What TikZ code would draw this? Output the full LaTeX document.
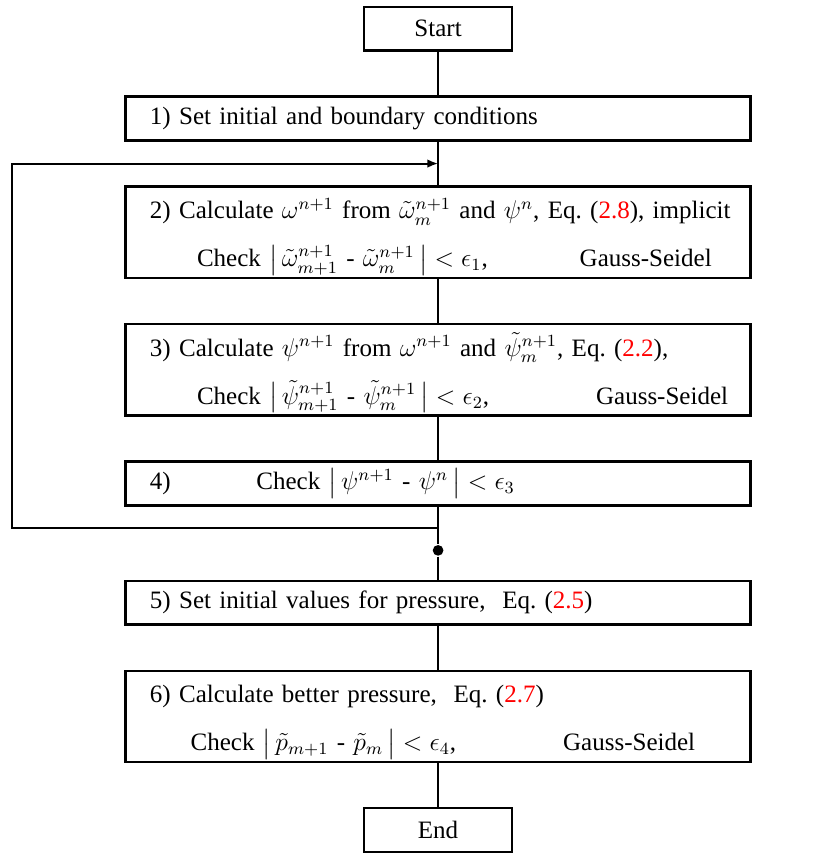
\documentclass[tikz,border=0pt]{standalone}
\usepackage{amsmath}
\usepackage{amssymb}
\usepackage[no-math]{fontspec}
\setmainfont{Liberation Serif}
\usepackage{tikz}
\usetikzlibrary{arrows.meta, positioning, calc}

\begin{document}
\begin{tikzpicture}[
        node distance=0.72cm,
        >={Latex[length=5pt,width=4pt]},
        line width=0.9pt,
        every node/.style={font=\fontsize{11.7pt}{14.5pt}\selectfont},
        block/.style={
            rectangle,
            draw,
            line width=1.1pt,
            minimum height=0.72cm,
            minimum width=10.27cm,
            text width=9.47cm,
            inner xsep=0.4cm,
            inner ysep=1pt,
            align=left
        },
        block2/.style={
            block,
            minimum height=1.456cm
        },
        term/.style={
            rectangle,
            draw,
            line width=1.1pt,
            minimum height=0.72cm,
            minimum width=2.43cm
        },
        joint/.style={
            circle,
            fill,
            inner sep=0pt,
            minimum size=5pt
        }
    ]

    % blocchi del diagramma
    \node[term] (start) {Start};
    \node[block, below=of start] (s1) {1) Set initial and boundary conditions};
    \node[block2, below=of s1] (s2) {\mbox{\rule{0pt}{14pt}2) Calculate $\omega^{n+1}$ from $\tilde{\omega}^{n+1}_m$ and $\psi^n$, Eq.~(\textcolor{red}{2.8}), implicit}\\[8pt]
        \mbox{\hspace*{22pt}Check $\big|\,\tilde{\omega}^{n+1}_{m+1}$ - $\tilde{\omega}^{n+1}_m\,\big| < \epsilon_1$,\hspace{43pt}Gauss-Seidel}};
    \node[block2, below=of s2] (s3) {\mbox{\rule{0pt}{14pt}3) Calculate $\psi^{n+1}$ from $\omega^{n+1}$ and $\tilde{\psi}^{n+1}_m$, Eq.~(\textcolor{red}{2.2}),}\\[8pt]
        \mbox{\hspace*{22pt}Check $\big|\,\tilde{\psi}^{n+1}_{m+1}$ - $\tilde{\psi}^{n+1}_m\,\big| < \epsilon_2$,\hspace{50pt}Gauss-Seidel}};
    \node[block, below=of s3] (s4) {4)\hspace{40pt}Check $\big|\,\psi^{n+1}$ - $\psi^n\,\big| < \epsilon_3$};
    \node[block, below=1.2cm of s4] (s5) {5) Set initial values for pressure,~ Eq.~(\textcolor{red}{2.5})};
    \node[block2, below=of s5] (s6) {\mbox{\rule{0pt}{14pt}6) Calculate better pressure,~ Eq.~(\textcolor{red}{2.7})}\\[8pt]
        \mbox{\hspace*{19pt}Check $\big|\,\tilde{p}_{m+1}$ - $\tilde{p}_m\,\big| < \epsilon_4$,\hspace{50pt}Gauss-Seidel}};
    \node[term, below=of s6] (stop) {End};

    % ciclo di iterazione
    \coordinate (loopin) at ($(s1.south)!0.5!(s2.north)$);
    \coordinate (loopout) at ($(s4.south)+(0,-0.35)$);
    \node[joint] (jn) at ($(s4.south)+(0,-0.72)$) {};

    \draw (start) -- (s1);
    \draw (s1) -- (s2);
    \draw (s2) -- (s3);
    \draw (s3) -- (s4);
    \draw (s4) -- (jn) -- (s5);
    \draw (s5) -- (s6);
    \draw (s6) -- (stop);
    \draw[->] (loopout) -- ++(-7.01,0) |- (loopin);

    \useasboundingbox ($(start.center)+(-7.2,0.47)$) rectangle ($(stop.south)+(6.288,-0.03)$);
    \end{tikzpicture}
\end{document}
